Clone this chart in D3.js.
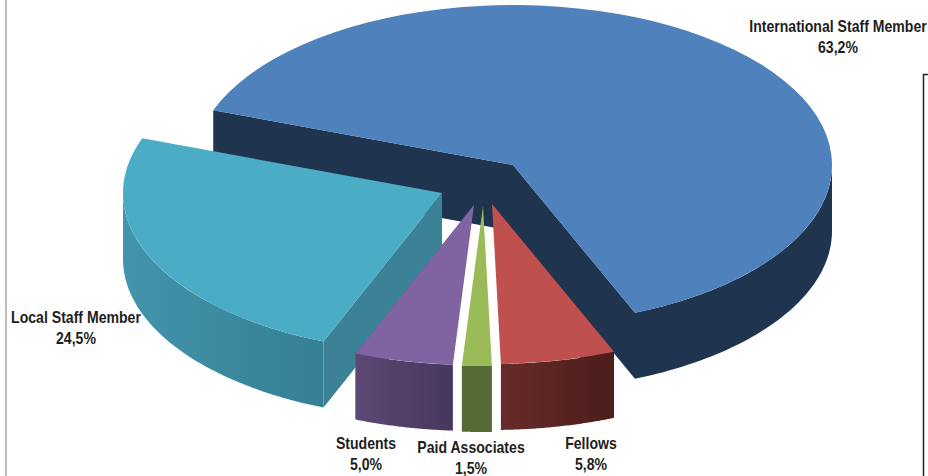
<!DOCTYPE html>
<html><head><meta charset="utf-8">
<script src="https://cdn.jsdelivr.net/npm/d3@7"></script>
<style>
html,body{margin:0;padding:0;background:#fff}
svg{display:block}
text{font-family:"Liberation Sans",sans-serif;font-weight:700;font-size:16px;fill:#1e1e1e;text-anchor:middle}
</style></head><body>
<svg id="chart" width="928" height="476"></svg>
<script>
// Staff categories, clockwise from the left edge of the largest slice
const categories = ["International Staff Member","Fellows","Paid Associates","Students","Local Staff Member"];
const shares = [63.2,5.8,1.5,5.0,24.5];

// Appearance of each slice: top face, rim gradient stops, cut-wall shade
const topColors  = ["#4f81bd","#c0504d","#9bbb59","#8064a2","#4bacc6"];
const rimColors  = [["#1f344f","#1f344f"],["#672b29","#4b1d1b"],["#566b33","#566b33"],["#5c4874","#47375c"],["#4295ad","#357f92"]];
const wallColors = ["#1f344f","#5e2422","#566b33","#6b5288","#3b8296"];

// Exploded position of each slice's point on the page
const apexX = [513,492,483,474,442];
const apexY = [165,204,206,205,193];
const labelX = [838,591,471,366,76];
const labelY = [32,449,453,449,323];

const rx = 319, ry = 160, depth = 66;
const svg = d3.select("#chart");
const defs = svg.append("defs");

const pie = d3.pie().value(d=>d).sort(null)
  .startAngle(-70*Math.PI/180).endAngle(290*Math.PI/180);
const slices = pie(shares).map((a,i)=>({...a,i}));
const arc = d3.arc().innerRadius(0).outerRadius(rx);

// Point on the ellipse for a clockwise-from-top angle, relative to the slice point
const rimPt = a => [rx*Math.sin(a), -ry*Math.cos(a)];

function rimPath(s, a0, a1){
  const steps = d3.range(0,61).map(k=>a0+(a1-a0)*k/60);
  const up = steps.map(a=>{const p=rimPt(a);return [apexX[s.i]+p[0],apexY[s.i]+p[1]];});
  const down = up.slice().reverse().map(p=>[p[0],p[1]+depth]);
  return d3.line()(up.concat(down))+"Z";
}
// Cut wall of a slice; narrow slices taper to their point and show only a sliver
function wallPath(s, a, tapered){
  const p = rimPt(a), x=apexX[s.i], y=apexY[s.i];
  const pts = [[x,y],[x+p[0],y+p[1]],[x+p[0],y+p[1]+depth]];
  if(!tapered) pts.push([x,y+depth]);
  return d3.line()(pts)+"Z";
}

// Horizontal shading along each slice's rim
slices.forEach(s=>{
  const a0 = Math.max(s.startAngle,Math.PI/2), a1 = Math.min(s.endAngle,3*Math.PI/2);
  const xs = [rimPt(a0)[0],rimPt(a1)[0]].map(v=>v+apexX[s.i]);
  const g = defs.append("linearGradient").attr("id","rim"+s.i)
    .attr("gradientUnits","userSpaceOnUse")
    .attr("x1",d3.min(xs)).attr("x2",d3.max(xs)).attr("y1",0).attr("y2",0);
  g.append("stop").attr("offset",0).attr("stop-color",rimColors[s.i][0]);
  g.append("stop").attr("offset",1).attr("stop-color",rimColors[s.i][1]);
});

// Back to front: navy slice, then the teal one, then the three narrow slices
const order = [0,4,3,1,2];
order.forEach(i=>{
  const s = slices[i];
  const g = svg.append("g");
  // cut walls that face the viewer
  const walls = {0:[s.startAngle,s.endAngle],4:[s.startAngle],3:[s.endAngle],1:[s.startAngle],2:[]}[i];
  walls.forEach(a=>g.append("path").attr("d",wallPath(s,a,i===1||i===3)).attr("fill",wallColors[i]));
  // outer rim: only the part on the near side of the ellipse
  const a0 = Math.max(s.startAngle,Math.PI/2), a1 = Math.min(s.endAngle,3*Math.PI/2);
  if(a1>a0) g.append("path").attr("d",rimPath(s,a0,a1)).attr("fill",`url(#rim${i})`);
  // top face: a pie wedge squashed into the ellipse
  g.append("path").attr("d",arc(s))
    .attr("transform",`translate(${apexX[i]},${apexY[i]}) scale(1,${ry/rx})`)
    .attr("fill",topColors[i]);
});

// Two-line labels in condensed type: category name, then share with a decimal comma
const fmt = v=>v.toFixed(1).replace(".",",")+"%";
categories.forEach((c,i)=>{
  const t = svg.append("text").attr("transform",`translate(${labelX[i]},${labelY[i]}) scale(0.88,1)`);
  t.append("tspan").attr("x",0).text(c);
  t.append("tspan").attr("x",0).attr("dy",21).text(fmt(shares[i]));
});

// Frame fragments at the page edges
svg.append("line").attr("x1",6).attr("x2",6).attr("y1",0).attr("y2",476).attr("stroke","#a6a6a6").attr("stroke-width",1.5);
svg.append("path").attr("d","M923.5,476V74.5H928").attr("fill","none").attr("stroke","#222").attr("stroke-width",1.5);
</script>
</body></html>
